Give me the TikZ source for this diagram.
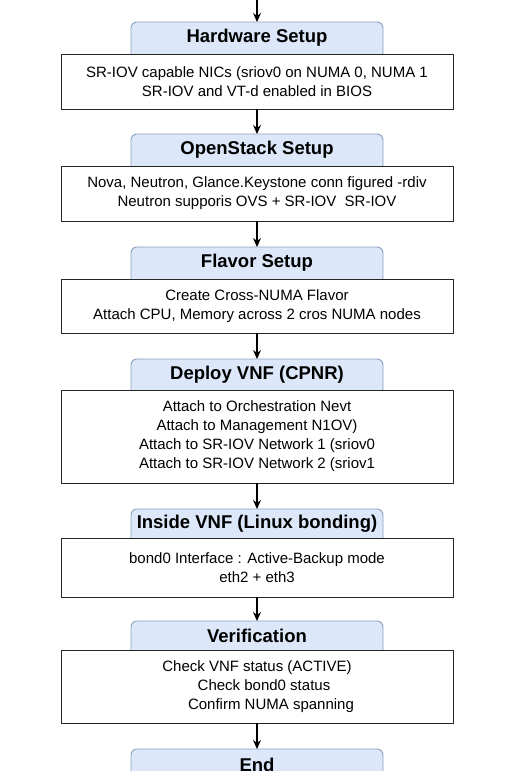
\documentclass[tikz,border=0pt]{standalone}
\usepackage{fontspec}
\setmainfont{Liberation Sans}
\definecolor{hdrFill}{RGB}{220,232,250}
\definecolor{hdrLine}{RGB}{140,160,190}
\usetikzlibrary{arrows.meta,positioning,backgrounds}

\begin{document}
\begin{tikzpicture}[
      x=1pt, y=1pt,
      hdr/.style={
         minimum width=252pt,
         minimum height=32pt,
         inner sep=0pt,
         outer sep=0pt,
         font=\fontsize{18.5}{22}\selectfont\bfseries},
      hdrbox/.style={
         fill=hdrFill,
         draw=hdrLine,
         line width=0.9pt},
      body/.style={
         draw=black!85,
         fill=white,
         line width=1pt,
         minimum width=392pt,
         inner sep=0pt,
         outer sep=0pt,
         align=center,
         font=\fontsize{15}{19}\selectfont},
      myarrow/.style={-{Stealth[length=9pt,width=8pt]}, line width=1.1pt},
      node distance=25pt
      ]
      \useasboundingbox (0,0) rectangle (514,-771);
      \coordinate (top) at (257,0);
      \node[hdr,below=22pt of top] (h1) {Hardware Setup};
      \node[body,minimum height=55pt,below=0pt of h1] (b1)
         {SR-IOV capable NICs (sriov0 on NUMA 0, NUMA 1\\SR-IOV and VT-d enabled in BIOS};
      \node[hdr,below=of b1] (h2) {OpenStack Setup};
      \node[body,minimum height=55pt,below=0pt of h2] (b2)
         {Nova, Neutron, Glance.Keystone conn figured -rdiv\\Neutron supporis OVS + SR-IOV\ \ SR-IOV};
      \node[hdr,below=26pt of b2] (h3) {Flavor Setup};
      \node[body,minimum height=54pt,below=0pt of h3] (b3)
         {Create Cross-NUMA Flavor\\Attach CPU, Memory across 2 cros NUMA nodes};
      \node[hdr,minimum height=31pt,below=26pt of b3] (h4) {Deploy VNF (CPNR)};
      \node[body,minimum height=93pt,below=0pt of h4] (b4)
         {Attach to Orchestration Nevt\\Attach to Management N1OV)\\
          Attach to SR-IOV Network 1 (sriov0\\Attach to SR-IOV Network 2 (sriov1};
      \node[hdr,minimum height=29pt,below=26pt of b4] (h5) {Inside VNF (Linux bonding)};
      \node[body,minimum height=59pt,below=0pt of h5] (b5)
         {bond0 Interface : Active-Backup mode\\eth2 + eth3};
      \node[hdr,minimum height=29pt,below=24pt of b5] (h6) {Verification};
      \node[body,minimum height=73pt,below=0pt of h6] (b6)
         {Check VNF status (ACTIVE)\\\hspace*{14pt}Check bond0 status\\\hspace*{28pt}Confirm NUMA spanning};
      \node[hdr,below=26pt of b6] (h7) {End};

    % header tabs, rounded on top only
    \begin{scope}[on background layer]
    \foreach \h in {h1,h2,h3,h4,h5,h6,h7}
      \filldraw[hdrbox] ([yshift=-5pt]\h.south west) [rounded corners=6pt]
         |- (\h.north) -| ([yshift=-5pt]\h.south east) [sharp corners] -- cycle;
    \end{scope}

    \draw[myarrow] (top) -- (h1);
    \foreach \i/\j in {b1/h2,b2/h3,b3/h4,b4/h5,b5/h6,b6/h7}
    \draw[myarrow] (\i) -- (\j);
\end{tikzpicture}
\end{document}
